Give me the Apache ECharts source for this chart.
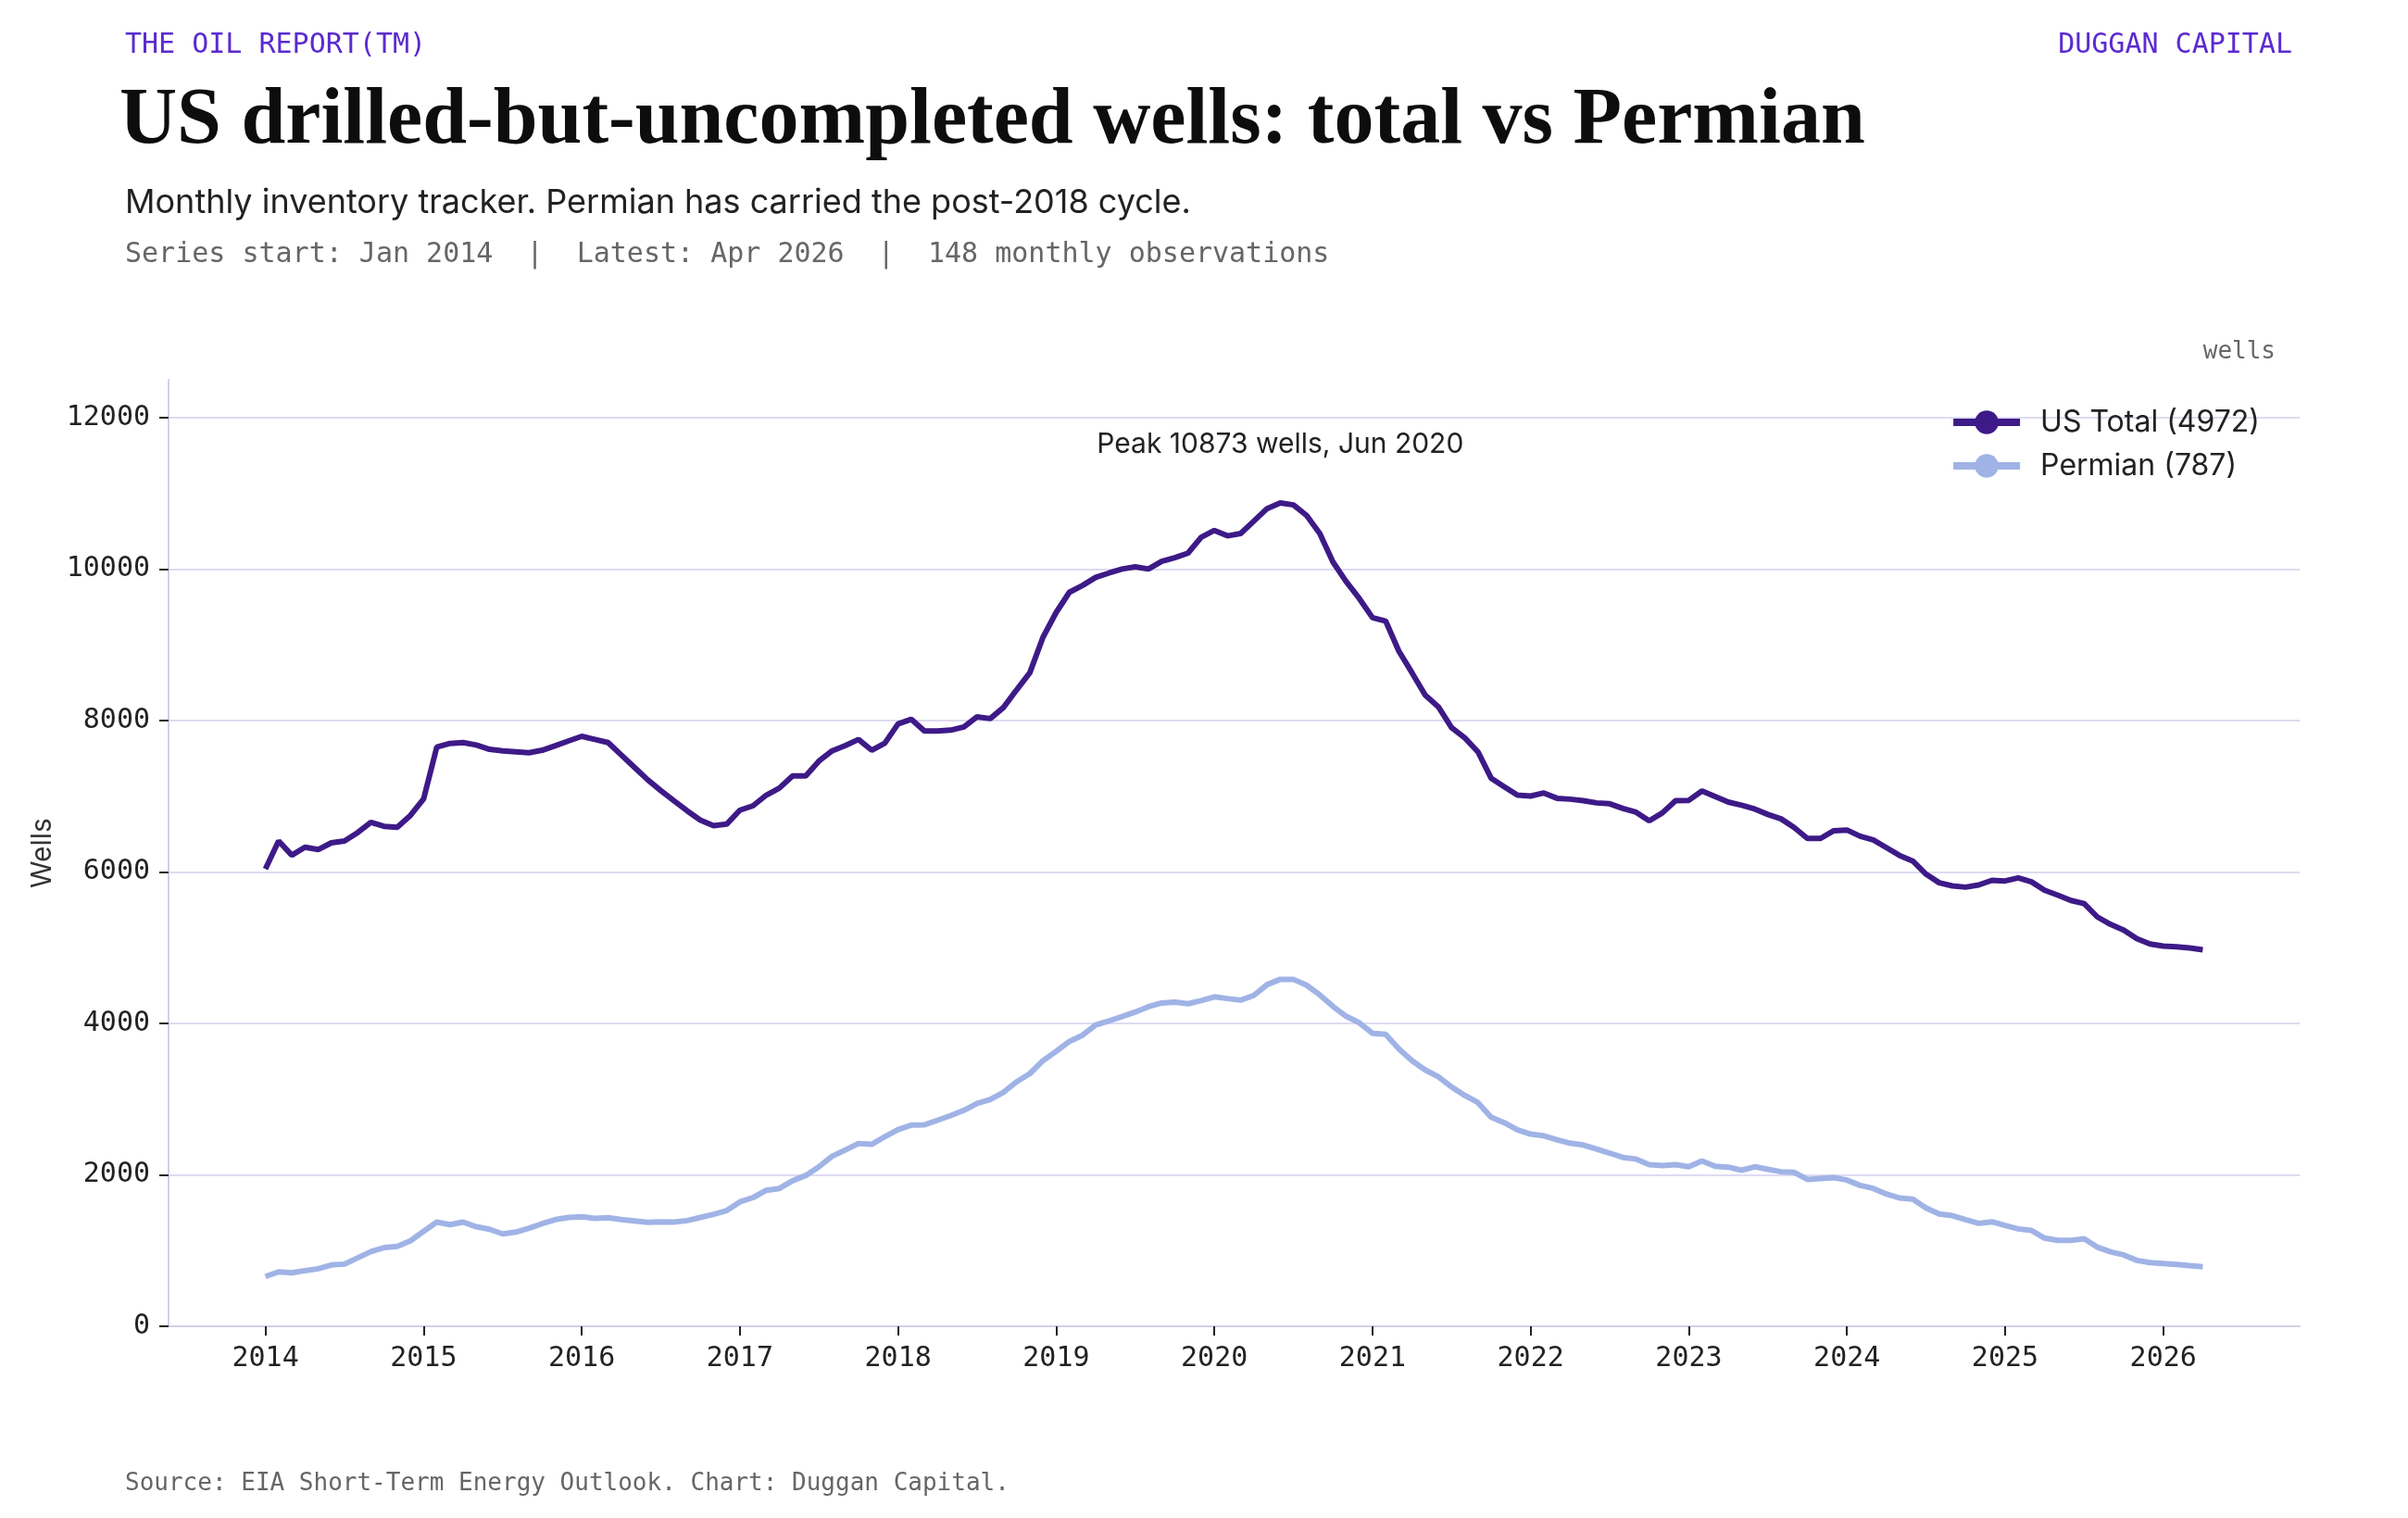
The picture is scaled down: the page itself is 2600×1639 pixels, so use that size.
<!DOCTYPE html>
<html>
<head>
<meta charset="utf-8">
<script src="https://cdn.jsdelivr.net/npm/echarts@6/dist/echarts.min.js"></script>
<style>
html,body{margin:0;padding:0;background:#ffffff;}
#chart{width:2600px;height:1639px;}
</style>
</head>
<body>
<div id="chart"></div>
<script>
// ---- data ----
const startYear = 2014;
const monthNames = ['Jan','Feb','Mar','Apr','May','Jun','Jul','Aug','Sep','Oct','Nov','Dec'];
const yearTicks = [2014,2015,2016,2017,2018,2019,2020,2021,2022,2023,2024,2025,2026];
const wellTicks = [0,2000,4000,6000,8000,10000,12000];

const totalWells = [
  6040, 6410, 6221, 6327, 6295, 6385, 6410, 6520, 6655, 6602, 6590, 6746,
  6963, 7648, 7697, 7709, 7676, 7619, 7598, 7586, 7574, 7607, 7668, 7730,
  7791, 7750, 7709, 7545, 7381, 7217, 7074, 6939, 6807, 6685, 6611, 6631,
  6816, 6874, 7014, 7108, 7268, 7268, 7464, 7599, 7669, 7750, 7607, 7701,
  7955, 8016, 7861, 7861, 7873, 7914, 8049, 8025, 8172, 8405, 8630, 9100,
  9427, 9693, 9783, 9890, 9947, 10000, 10029, 10000, 10102, 10150, 10210, 10420,
  10510, 10438, 10470, 10634, 10798, 10873, 10847, 10708, 10470, 10094, 9836, 9611,
  9358, 9313, 8916, 8630, 8335, 8180, 7906, 7771, 7587, 7239, 7125, 7014,
  7002, 7043, 6973, 6961, 6941, 6912, 6900, 6838, 6789, 6675, 6781, 6941,
  6945, 7070, 6996, 6923, 6882, 6832, 6759, 6701, 6586, 6443, 6443, 6545,
  6554, 6472, 6422, 6320, 6217, 6144, 5971, 5857, 5816, 5799, 5828, 5889,
  5881, 5922, 5869, 5758, 5693, 5623, 5582, 5406, 5307, 5233, 5118, 5049,
  5020, 5012, 4996, 4972
];

const permianWells = [
  657, 719, 706, 735, 760, 809, 821, 904, 986, 1039, 1055, 1129,
  1253, 1376, 1343, 1376, 1314, 1281, 1220, 1244, 1294, 1355, 1409, 1437,
  1446, 1425, 1433, 1409, 1392, 1372, 1380, 1376, 1396, 1437, 1478, 1528,
  1643, 1700, 1795, 1820, 1922, 1992, 2107, 2246, 2328, 2414, 2402, 2504,
  2598, 2656, 2660, 2721, 2783, 2852, 2943, 2996, 3090, 3229, 3336, 3508,
  3631, 3762, 3844, 3979, 4033, 4090, 4150, 4220, 4270, 4280, 4260, 4300,
  4350, 4328, 4307, 4369, 4512, 4582, 4582, 4504, 4377, 4225, 4094, 4008,
  3869, 3857, 3664, 3508, 3385, 3295, 3160, 3049, 2955, 2762, 2689, 2594,
  2537, 2516, 2463, 2418, 2394, 2340, 2287, 2230, 2209, 2135, 2123, 2135,
  2107, 2184, 2114, 2102, 2061, 2106, 2073, 2041, 2033, 1939, 1951, 1963,
  1931, 1861, 1820, 1747, 1694, 1678, 1563, 1482, 1461, 1408, 1359, 1380,
  1331, 1286, 1266, 1164, 1135, 1135, 1155, 1045, 984, 943, 870, 841,
  829, 817, 800, 787
];

// ---- build ----
const toPoints = arr => arr.map((v, i) => [startYear + i / 12, v]);
const totalPts = toPoints(totalWells);
const permianPts = toPoints(permianWells);
const n = totalWells.length;
const lastIdx = n - 1;
const xSpan = lastIdx / 12;
const xMin = startYear - xSpan * 0.05;
const xMax = startYear + xSpan * 1.05;
const peakVal = Math.max.apply(null, totalWells);
const peakIdx = totalWells.indexOf(peakVal);
const peakLabel = 'Peak ' + peakVal + ' wells, ' + monthNames[peakIdx % 12] + ' ' + (startYear + Math.floor(peakIdx / 12));
const totalName = 'US Total (' + totalWells[lastIdx] + ')';
const permianName = 'Permian (' + permianWells[lastIdx] + ')';

const SANS = 'Inter, "Noto Sans", sans-serif';
const MONO = '"DejaVu Sans Mono", "Liberation Mono", monospace';
const SERIF = '"Liberation Serif", "DejaVu Serif", serif';
const C_TOTAL = '#3d1a87';
const C_PERM = '#a0b3e6';
const C_GRID = '#dedbf2';

const chart = echarts.init(document.getElementById('chart'), null, {renderer: 'canvas'});
chart.setOption({
  backgroundColor: '#ffffff',
  animation: false,
  title: [
    {text: 'THE OIL REPORT(TM)', left: 130, top: 29, textStyle: {fontFamily: MONO, fontSize: 30, lineHeight: 30, fontWeight: 'normal', color: '#5b2bcf'}},
    {text: 'DUGGAN CAPITAL', right: 120, top: 29, textStyle: {fontFamily: MONO, fontSize: 30, lineHeight: 30, fontWeight: 'normal', color: '#5b2bcf'}},
    {text: 'US drilled-but-uncompleted wells: total vs Permian', left: 124, top: 84, textStyle: {fontFamily: SERIF, fontSize: 86, lineHeight: 86, fontWeight: 'bold', color: '#0d0d0d'}},
    {text: 'Monthly inventory tracker. Permian has carried the post-2018 cycle.', left: 130, top: 196, textStyle: {fontFamily: SANS, fontSize: 36, lineHeight: 36, fontWeight: 'normal', color: '#222222'}},
    {text: 'Series start: Jan 2014  |  Latest: Apr 2026  |  148 monthly observations', left: 130, top: 255, textStyle: {fontFamily: MONO, fontSize: 30, lineHeight: 30, fontWeight: 'normal', color: '#666666'}},
    {text: 'wells', right: 138, top: 362, textStyle: {fontFamily: MONO, fontSize: 26, lineHeight: 26, fontWeight: 'normal', color: '#666666'}},
    {text: 'Source: EIA Short-Term Energy Outlook. Chart: Duggan Capital.', left: 130, top: 1584, textStyle: {fontFamily: MONO, fontSize: 26, lineHeight: 26, fontWeight: 'normal', color: '#666666'}}
  ],
  legend: {
    orient: 'vertical',
    right: 155,
    top: 435,
    itemWidth: 72,
    itemHeight: 32,
    itemGap: 15,
    lineStyle: {width: 8},
    textStyle: {fontFamily: SANS, fontSize: 32, lineHeight: 32, color: '#222222', padding: [0, 0, 0, 17]},
    data: [totalName, permianName]
  },
  grid: {left: 182, right: 117, top: 410, bottom: 207, containLabel: false},
  xAxis: {
    type: 'value',
    min: xMin,
    max: xMax,
    axisLine: {show: true, lineStyle: {color: '#d3d0e8', width: 2}},
    axisTick: {show: true, customValues: yearTicks, length: 10, lineStyle: {color: '#222222', width: 2}},
    axisLabel: {customValues: yearTicks, margin: 20, fontFamily: MONO, fontSize: 30, color: '#222222', formatter: v => String(Math.round(v))},
    splitLine: {show: false}
  },
  yAxis: {
    type: 'value',
    min: 0,
    max: 12500,
    name: 'Wells',
    nameLocation: 'middle',
    nameGap: 121,
    nameTextStyle: {fontFamily: SANS, fontSize: 30, color: '#333333'},
    axisLine: {show: true, lineStyle: {color: '#d3d0e8', width: 2}},
    axisTick: {show: true, customValues: wellTicks, length: 10, lineStyle: {color: '#222222', width: 2}},
    axisLabel: {customValues: wellTicks, margin: 20, fontFamily: MONO, fontSize: 30, color: '#222222', formatter: v => String(Math.round(v))},
    splitLine: {show: false}
  },
  series: [
    {
      name: permianName,
      type: 'line',
      data: permianPts,
      symbol: 'circle',
      symbolSize: 25,
      showSymbol: false,
      lineStyle: {color: C_PERM, width: 6},
      itemStyle: {color: C_PERM},
      z: 3,
      markLine: {
        silent: true,
        symbol: 'none',
        label: {show: false},
        lineStyle: {color: C_GRID, width: 2, type: 'solid'},
        data: wellTicks.filter(v => v > 0).map(v => ({yAxis: v})),
        z: 1
      }
    },
    {
      name: totalName,
      type: 'line',
      data: totalPts,
      symbol: 'circle',
      symbolSize: 25,
      showSymbol: false,
      lineStyle: {color: C_TOTAL, width: 6},
      itemStyle: {color: C_TOTAL},
      z: 4,
      markPoint: {
        silent: true,
        symbol: 'circle',
        symbolSize: 1,
        itemStyle: {color: 'rgba(0,0,0,0)'},
        label: {show: true, position: 'top', distance: 48, formatter: peakLabel, fontFamily: SANS, fontSize: 30, lineHeight: 30, color: '#222222'},
        data: [{coord: [startYear + peakIdx / 12, peakVal]}]
      }
    }
  ]
});
</script>
</body>
</html>
